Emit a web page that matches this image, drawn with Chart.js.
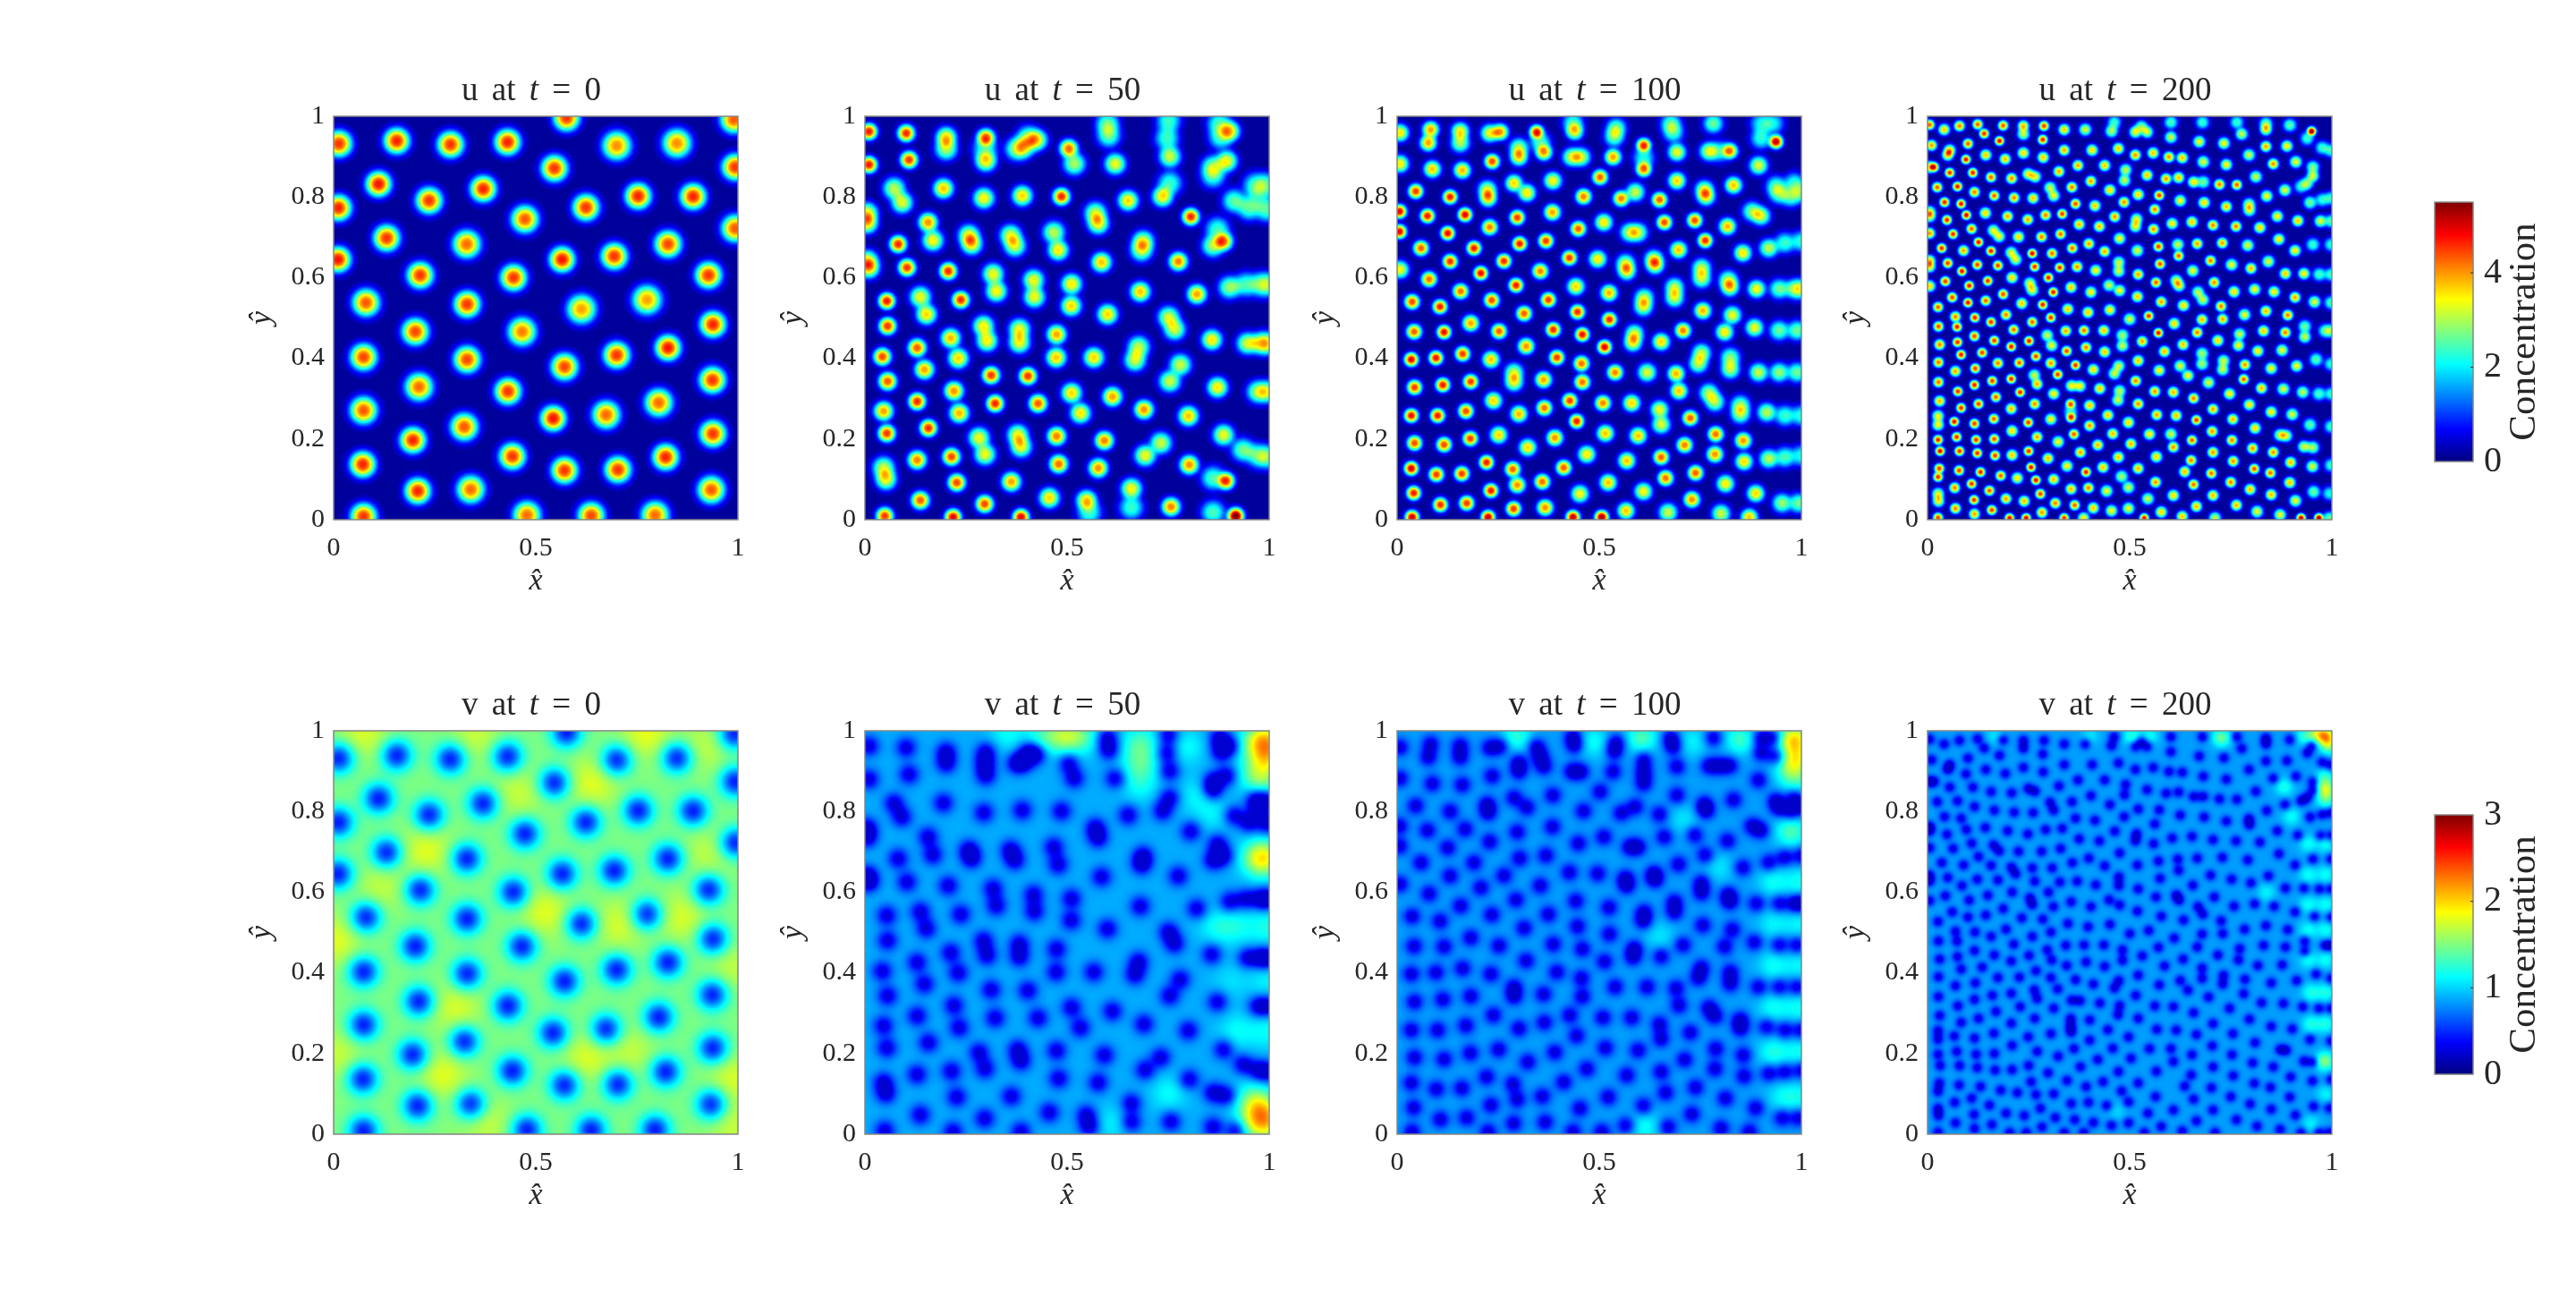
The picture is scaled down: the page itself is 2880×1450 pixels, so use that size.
<!DOCTYPE html>
<html>
<head>
<meta charset="utf-8">
<style>
  html, body { margin: 0; padding: 0; background: #fff; }
  #page { position: relative; width: 2880px; height: 1450px; overflow: hidden; }
  canvas { position: absolute; }
</style>
<script src="https://cdn.jsdelivr.net/npm/chart.js@4/dist/chart.umd.min.js"></script>
</head>
<body>
<div id="page"></div>
<script>
// Spot centres: [x, y, peak concentration]
const spots0 = [[.013,.932,4.4],[.156,.939,4.5],[.289,.93,4.4],[.43,.936,4.5],[.576,.996,4.4],[.7,.927,3.9],[.849,.933,3.9],[.99,.992,4.2],[.546,.871,4.4],[.993,.874,4.4],[.111,.832,4.6],[.37,.82,4.5],[.236,.791,4.4],[.012,.773,4.5],[.753,.802,4.5],[.889,.801,4.5],[.624,.774,4.4],[.473,.745,4.2],[.993,.722,4.2],[.131,.698,4.4],[.329,.683,4.1],[.827,.683,4.3],[.694,.653,4.4],[.565,.645,4.6],[.011,.645,4.6],[.214,.606,4.4],[.445,.6,4.4],[.927,.606,4.4],[.08,.538,4.2],[.33,.534,4.4],[.775,.545,3.8],[.613,.522,3.8],[.938,.484,4.5],[.202,.466,4.3],[.466,.466,4],[.827,.426,4.6],[.074,.403,4.3],[.7,.408,4.4],[.33,.397,4.3],[.571,.379,4.3],[.937,.346,4.4],[.211,.329,4.1],[.431,.318,4.4],[.804,.29,4.1],[.074,.271,4.2],[.674,.26,4.1],[.543,.251,4.6],[.323,.23,4.2],[.938,.213,4.4],[.196,.197,4.5],[.442,.157,4.4],[.821,.155,4.5],[.072,.137,4.5],[.571,.122,4.4],[.703,.124,4.4],[.339,.075,4.1],[.208,.071,4.5],[.934,.074,4.2],[.074,.008,4.4],[.478,.011,4.1],[.637,.01,4.3],[.795,.011,4.1]];

const spots50 = [[.01,.962,4.6],[.102,.958,4.5],[.201,.948,3.4],[.201,.919,2.8],[.299,.947,4.2],[.299,.889,3.3],[.297,.919,2],[.109,.892,4.4],[.01,.88,4.6],[.425,.941,3.2],[.393,.923,2.7],[.375,.919,2.5],[.404,.948,2.5],[.504,.92,4.1],[.518,.882,2.8],[.6,.982,2.4],[.603,.952,2.4],[.619,.882,3.2],[.751,.989,2.2],[.747,.945,2.2],[.754,.9,3],[.902,.963,3.4],[.876,.982,2.2],[.88,.948,2.2],[.895,.889,3.2],[.861,.875,2.5],[.861,.852,2.1],[.194,.821,3.6],[.072,.821,2.9],[.092,.786,3.1],[.294,.797,3.3],[.389,.803,3.5],[.486,.801,4.5],[.651,.791,3.5],[.736,.801,3.4],[.754,.834,2.2],[.913,.79,2.4],[.95,.772,2.3],[.994,.768,2.3],[.965,.83,2.1],[.994,.83,2.1],[.972,.801,1.6],[.006,.76,3.2],[.006,.735,3.4],[.156,.737,3.9],[.168,.692,3.3],[.57,.76,2.9],[.577,.734,3.2],[.806,.751,4.5],[.887,.69,4],[.861,.679,2.8],[.872,.72,2.2],[.257,.705,3.1],[.264,.683,3.3],[.36,.705,3],[.371,.679,3],[.467,.712,2.9],[.478,.668,3.4],[.688,.69,3],[.684,.668,2.8],[.082,.683,4.5],[.104,.625,4.4],[.01,.624,3.3],[.006,.642,3],[.206,.616,4.5],[.585,.638,3.6],[.775,.64,4],[.317,.609,3.2],[.325,.566,3.3],[.417,.594,3.2],[.419,.552,3.2],[.511,.584,3.4],[.51,.53,3.5],[.681,.565,3.6],[.821,.559,3.8],[.902,.576,2.7],[.942,.583,2.2],[.979,.583,2.1],[.998,.583,2.1],[.054,.542,4.6],[.056,.48,4.4],[.137,.552,3.2],[.152,.509,3.5],[.237,.545,4.5],[.6,.509,3.5],[.751,.502,3],[.766,.472,3],[.293,.48,3.3],[.302,.443,3.3],[.382,.472,3.2],[.382,.439,3.2],[.474,.459,3.8],[.473,.402,3.6],[.212,.45,3.7],[.231,.4,3.5],[.129,.426,4.2],[.147,.372,3.8],[.043,.404,4.3],[.056,.343,4.2],[.566,.402,3.5],[.677,.428,2.9],[.668,.395,3],[.858,.446,3.4],[.946,.437,3],[.979,.437,2.8],[.998,.437,2.5],[.78,.384,3],[.754,.343,3],[.312,.358,4.4],[.403,.356,4.4],[.22,.319,3.9],[.233,.264,3.7],[.129,.293,4.5],[.322,.288,4.5],[.428,.288,4.2],[.511,.314,3.5],[.533,.264,3.4],[.612,.305,3.8],[.69,.273,3.9],[.872,.328,3.4],[.972,.317,2.8],[.998,.317,2.6],[.8,.257,3.6],[.046,.269,3.8],[.054,.214,4.4],[.157,.227,4.5],[.282,.203,3.2],[.297,.162,3.2],[.378,.21,3.2],[.386,.181,3.2],[.474,.207,4],[.479,.138,4.1],[.592,.196,4],[.577,.128,3.9],[.732,.19,3],[.693,.159,3.2],[.887,.21,3.2],[.935,.173,2.5],[.972,.159,2.3],[.998,.155,2.2],[.129,.148,4],[.214,.156,4.3],[.046,.129,2.9],[.052,.1,3.2],[.802,.136,3.9],[.227,.092,4.3],[.362,.094,3.8],[.893,.096,4.4],[.861,.103,2.3],[.659,.077,3.3],[.659,.03,2.2],[.137,.048,4.2],[.296,.039,4.3],[.456,.054,3.5],[.548,.048,3.5],[.555,.018,2.2],[.757,.032,4],[.049,.009,4.4],[.218,.006,4.8],[.386,.006,4.8],[.917,.009,5.5],[.861,.018,2.3]];

const spots100 = [[.007,.959,3.4],[.083,.967,3.8],[.077,.934,3.8],[.156,.963,3.3],[.156,.934,2.8],[.255,.961,3.8],[.229,.958,3.2],[.345,.961,4.6],[.363,.911,3.8],[.354,.936,2.2],[.301,.922,2.8],[.301,.899,3.4],[.439,.963,3.3],[.435,.985,2.1],[.542,.971,2.5],[.537,.949,2.5],[.677,.982,2.3],[.683,.96,2.2],[.782,.982,2.5],[.937,.937,5],[.9,.982,1.9],[.9,.945,2.1],[.93,.982,1.9],[.61,.928,4.5],[.61,.869,4.1],[.61,.897,2],[.692,.911,3.2],[.771,.913,3],[.823,.914,4],[.797,.913,2],[.432,.899,3],[.455,.899,3],[.534,.899,3.8],[.007,.882,3.4],[.087,.869,3.6],[.161,.866,3.7],[.235,.888,4.3],[.894,.878,3.1],[.502,.849,4.2],[.385,.84,3.3],[.692,.84,3.5],[.289,.834,3.5],[.321,.81,3.4],[.76,.818,3],[.764,.801,3.2],[.832,.829,3.6],[.223,.818,3],[.225,.797,3.5],[.046,.814,4.4],[.131,.8,4.6],[.461,.801,4],[.554,.796,4],[.589,.812,3],[.649,.793,4.2],[.937,.827,2.2],[.982,.834,2.1],[.945,.808,2.3],[1,.812,2.2],[.974,.801,2.3],[.006,.764,4.8],[.075,.753,4.6],[.168,.756,4.8],[.297,.749,4.4],[.384,.762,3.8],[.511,.737,3.4],[.878,.764,2.6],[.9,.753,3],[.229,.725,4],[.448,.721,4.2],[.661,.737,4.3],[.736,.742,4.3],[.817,.727,3.7],[.575,.712,2.8],[.596,.712,2.8],[.006,.714,4.8],[.125,.71,4.7],[.368,.691,4.4],[.303,.684,4.6],[.762,.692,4.5],[.059,.673,4.2],[.19,.673,4.6],[.696,.669,3.6],[.855,.661,3.4],[.919,.673,2.9],[.959,.686,2.2],[1,.69,2.1],[.426,.649,4.4],[.496,.646,3.4],[.131,.64,4.5],[.264,.641,4.5],[.565,.635,2.9],[.568,.616,3.2],[.635,.646,3],[.638,.631,3.2],[.007,.62,3.3],[.354,.616,4],[.207,.611,4.7],[.753,.624,2.9],[.753,.598,2.9],[.079,.596,4.1],[.819,.594,2.7],[.823,.576,3.2],[.294,.581,4.6],[.442,.578,3.5],[.157,.566,4.1],[.686,.576,2.9],[.686,.55,3],[.524,.562,3.7],[.889,.572,3.3],[.945,.572,2.5],[.982,.572,2.5],[1,.572,2.3],[.611,.55,2.8],[.609,.528,3],[.374,.545,4.4],[.234,.544,4.3],[.037,.54,4.3],[.106,.528,4.6],[.756,.518,3.7],[.446,.515,4.5],[.314,.511,4.2],[.829,.507,3.2],[.81,.465,3.4],[.525,.496,4.5],[.182,.487,3.8],[.884,.476,3.2],[.945,.469,2.5],[.989,.469,2.5],[.386,.471,4.5],[.252,.467,4.2],[.707,.469,4],[.042,.466,4.2],[.116,.465,4.7],[.458,.459,4.7],[.587,.461,3],[.583,.439,3.2],[.653,.441,3.5],[.319,.43,3.9],[.513,.428,4.8],[.162,.411,4.4],[.395,.402,4.4],[.096,.401,4.7],[.035,.397,4.8],[.232,.397,3.6],[.753,.413,2.9],[.745,.387,2.9],[.824,.402,2.6],[.824,.373,2.9],[.456,.387,4.1],[.458,.341,4.1],[.894,.365,3],[.945,.365,2.7],[.989,.365,2.5],[.539,.365,4],[.618,.365,3.1],[.289,.365,2.9],[.289,.341,3.1],[.69,.362,3.7],[.697,.319,3.6],[.362,.347,3.8],[.043,.328,4.4],[.113,.334,4.6],[.182,.342,4.4],[.771,.314,2.8],[.786,.292,2.8],[.238,.295,3.5],[.427,.295,4.4],[.509,.289,4],[.58,.289,3.5],[.849,.284,2.6],[.849,.262,2.7],[.364,.277,4.1],[.17,.269,4.3],[.649,.273,3.2],[.653,.236,3.1],[.914,.266,2.9],[.959,.258,2.2],[1,.258,2.1],[.301,.262,3.7],[.035,.258,4.7],[.1,.258,4.6],[.725,.252,4.2],[.444,.244,4.6],[.515,.214,3.6],[.251,.21,3.5],[.788,.212,4.1],[.786,.162,3.9],[.596,.208,3.6],[.39,.203,3.9],[.181,.201,4.4],[.856,.196,3.9],[.858,.144,3.5],[.043,.19,4.3],[.116,.186,4.3],[.711,.185,4],[.323,.179,3.5],[.469,.162,3.4],[.653,.155,4.2],[.919,.151,2.9],[.959,.155,2.3],[1,.159,2],[.568,.146,3.6],[.221,.142,4.6],[.035,.127,4.9],[.412,.129,4.2],[.286,.125,4.2],[.297,.086,3.9],[.16,.114,4.4],[.097,.112,4.4],[.738,.116,4.2],[.664,.103,4.1],[.359,.094,4.1],[.522,.092,3.6],[.812,.089,3.4],[.609,.07,3.3],[.232,.072,4.6],[.041,.066,4.6],[.452,.064,3.3],[.887,.065,3.5],[.729,.05,3.9],[.952,.041,2.7],[.993,.041,2.5],[.107,.037,4.5],[.172,.041,4.4],[.288,.027,4.4],[.366,.03,3.9],[.566,.022,3.6],[.67,.018,3],[.801,.015,3],[.871,.006,3.6],[.037,.006,5],[.225,.006,5],[.435,.006,5],[.506,.006,5.2]];

const spots200 = [[.005,.979,4.2],[.041,.967,3.6],[.079,.976,4],[.124,.98,4.2],[.14,.957,4.5],[.187,.977,4.2],[.237,.976,3.7],[.237,.956,3],[.288,.976,4.4],[.338,.967,3.6],[.39,.967,3.1],[.462,.985,2.2],[.455,.963,2.8],[.178,.939,4.7],[.285,.942,4.6],[.01,.928,3.8],[.1,.932,4.2],[.338,.916,3.8],[.407,.916,3.5],[.472,.92,3.6],[.055,.916,3.5],[.05,.904,3.5],[.144,.904,3.6],[.237,.909,3.5],[.192,.894,3.7],[.286,.898,3.6],[.095,.893,4.7],[.016,.874,4.4],[.004,.874,3],[.372,.878,3.8],[.438,.878,3.6],[.325,.863,3.8],[.055,.86,4.5],[.112,.86,4.6],[.249,.857,3.3],[.266,.85,3.3],[.157,.849,4.2],[.208,.846,3.9],[.49,.867,3],[.487,.841,3],[.404,.839,3.8],[.024,.824,4.2],[.074,.826,4.6],[.357,.824,4],[.303,.823,3],[.312,.803,3.2],[.451,.817,3.5],[.116,.812,4],[.165,.803,4.2],[.214,.798,4],[.261,.797,3.6],[.042,.787,4.6],[.083,.783,4.7],[.366,.783,4.3],[.414,.778,3.6],[.486,.787,3.9],[.005,.763,3],[.005,.752,3],[.143,.76,3.5],[.096,.755,4.8],[.198,.752,3.8],[.292,.755,4],[.333,.758,4.4],[.248,.744,3.8],[.463,.751,3.9],[.048,.743,4.6],[.375,.732,3.7],[.425,.727,3.7],[.109,.721,4.2],[.005,.71,3.9],[.063,.708,4.5],[.163,.717,3.2],[.177,.702,3.2],[.225,.701,3.5],[.282,.701,4],[.329,.708,4.1],[.475,.697,3.3],[.126,.688,4.7],[.399,.684,3.8],[.358,.673,4.1],[.035,.673,4.5],[.089,.667,3.8],[.157,.666,4.6],[.438,.665,3.8],[.308,.66,4.1],[.259,.66,4.8],[.207,.662,3.1],[.218,.645,3.1],[.005,.642,3.5],[.005,.627,3.4],[.05,.636,4.4],[.123,.632,4.4],[.174,.63,4.4],[.265,.627,4.5],[.327,.625,4.5],[.37,.627,3.9],[.473,.638,3],[.473,.616,3],[.416,.618,3.4],[.085,.616,4.7],[.209,.6,3.5],[.299,.6,4.6],[.149,.592,4.5],[.044,.591,4.4],[.253,.586,3.1],[.259,.569,3.2],[.005,.579,3.5],[.103,.58,4.6],[.355,.576,3.6],[.449,.581,3],[.475,.568,3.3],[.404,.564,3.4],[.311,.564,4.6],[.187,.559,4.3],[.061,.551,4.3],[.1,.538,4.7],[.144,.543,4.2],[.233,.536,3.6],[.285,.533,4.6],[.347,.522,3.6],[.397,.514,3.6],[.451,.52,3.4],[.026,.527,4.2],
[.069,.503,4],[.073,.478,4.6],[.117,.501,4.6],[.194,.508,4],[.157,.49,4.5],[.259,.49,4.2],[.305,.501,4.5],[.027,.479,4.3],[.213,.471,4.1],[.342,.468,3.8],[.387,.469,4.1],[.436,.469,3.6],[.5,.497,3.1],[.116,.455,4.3],[.296,.457,3],[.307,.432,3.2],[.482,.457,2.8],[.482,.431,3],[.165,.444,4.4],[.251,.443,4.6],[.074,.44,4.5],[.03,.434,4],[.207,.429,4.6],[.392,.427,4],[.344,.418,4.3],[.438,.416,3.6],[.083,.409,4.6],[.135,.414,4.4],[.268,.405,4.4],[.027,.39,4.1],[.174,.388,4],[.227,.389,4.2],[.305,.388,3.9],[.322,.36,4.4],[.366,.383,4.5],[.41,.372,3.5],[.118,.375,4.4],[.069,.368,3.8],[.473,.381,3],[.462,.362,3],[.264,.358,3],[.271,.336,3.7],[.207,.349,4.5],[.16,.344,4.4],[.027,.341,4.1],[.116,.334,4.6],[.356,.332,3.3],[.377,.331,3.3],[.426,.325,3.6],[.312,.312,3.4],[.475,.319,2.9],[.471,.296,3],[.075,.318,4.5],[.229,.316,4.5],[.169,.304,4.2],[.03,.294,3.7],[.126,.287,4.4],[.265,.287,3.9],[.354,.287,4.2],[.355,.253,4.3],[.354,.268,2],[.401,.283,3.6],[.207,.275,3.7],[.083,.277,4.5],[.305,.249,3.4],[.446,.259,3.6],[.164,.25,4.2],[.026,.257,3.3],[.026,.235,3.3],[.066,.243,4.7],[.249,.241,4.4],[.116,.238,4.4],[.497,.241,3.5],[.401,.233,3.9],[.209,.22,3.5],[.458,.213,3.7],[.362,.212,4.2],[.271,.205,3.8],[.026,.198,4.6],[.072,.205,4.5],[.12,.198,4.5],[.165,.2,4.3],[.323,.193,3.3],[.503,.188,3.7],[.421,.185,3.7],[.378,.167,3.8],[.209,.16,3.6],[.25,.17,4.5],[.031,.17,4.8],[.079,.17,4.5],[.123,.165,4.5],[.167,.159,4.4],[.298,.152,3.7],[.472,.155,3.6],[.345,.133,3.4],[.434,.13,3.6],[.029,.127,4.4],[.078,.122,4.4],[.256,.13,4.7],[.392,.118,4.6],[.131,.118,4.6],[.181,.109,4.2],[.222,.103,3.4],[.312,.1,3.7],[.026,.106,4.5],[.268,.098,4.7],[.48,.107,2.8],[.497,.08,3],[.109,.089,4.5],[.067,.079,4],[.355,.076,3.7],[.398,.079,4],[.153,.072,4.2],[.443,.071,3.2],[.279,.064,4.4],[.026,.064,3.2],[.027,.046,3.3],[.194,.052,3.8],[.239,.046,3.7],[.115,.049,4.5],[.316,.041,4],[.364,.036,4.2],[.069,.028,4],[.41,.029,3.6],[.159,.024,4.4],[.455,.022,3.3],[.497,.028,3.2],[.283,.018,3.9],[.116,.014,3.8],[.026,.005,4.4],[.203,.004,4.8],[.244,.004,4.9],[.338,.004,4.5],[.386,.004,3.4],
[.514,.961,3.2],[.543,.961,3],[.529,.974,2.6],[.602,.985,2.3],[.602,.948,3],[.68,.985,2.2],[.672,.937,3.2],[.765,.985,2.2],[.777,.956,3],[.837,.982,2.5],[.837,.967,3.3],[.896,.978,2.4],[.95,.963,5.2],[.939,.945,2.2],[.976,.922,2.2],[.998,.915,2.2],[.733,.933,3.3],[.837,.925,3.8],[.889,.926,3.4],[.514,.904,3.9],[.558,.909,3.6],[.597,.899,3.9],[.63,.897,3.6],[.795,.904,3],[.682,.887,3.1],[.739,.88,3.4],[.855,.882,3.9],[.911,.887,3.2],[.953,.874,2.6],[.953,.852,3],[.939,.834,2.6],[.924,.826,2.1],[.543,.854,3.6],[.59,.845,3.9],[.621,.848,3.6],[.812,.85,3],[.658,.837,3.4],[.682,.837,2.5],[.722,.831,4],[.765,.83,4.2],[.884,.817,3.1],[.839,.802,3.3],[.521,.806,3.5],[.573,.804,4.4],[.625,.791,3.3],[.684,.786,3.5],[.739,.776,3.7],[.795,.782,2.9],[.796,.767,3],[.946,.786,2.5],[.976,.793,2.1],[.998,.797,2.1],[.562,.769,4],[.865,.752,3.4],[.517,.745,3.2],[.514,.727,3.2],[.605,.734,3.4],[.654,.738,3.6],[.706,.73,4],[.763,.727,4],[.822,.724,3.5],[.916,.741,3.6],[.972,.74,3.1],[.998,.74,2.4],[.559,.72,3.9],[.869,.695,3.4],[.571,.677,4.4],[.667,.684,3.8],[.729,.686,3.8],[.792,.68,3.1],[.519,.667,3.1],[.619,.682,3],[.621,.654,4.2],[.909,.667,3.4],[.953,.682,2.2],[.998,.682,2.1],[.7,.642,4],[.843,.64,3.1],[.575,.634,4.3],[.752,.632,3.2],[.8,.623,3.7],[.656,.617,3.2],[.521,.608,3.8],[.885,.61,3.6],[.931,.61,3.4],[.969,.608,2.3],[.998,.608,2.3],[.565,.588,4.2],[.615,.593,3],[.622,.58,3.2],[.709,.588,3.9],[.758,.565,3.5],[.809,.571,3.3],[.857,.565,3.4],[.519,.553,3.6],[.669,.564,2.9],[.681,.545,3],[.909,.551,3.8],[.578,.54,3.8],[.633,.531,3.5],[.957,.54,3.1],[.998,.538,2.3],[.726,.529,4],[.837,.517,3.7],[.547,.505,4.5],[.891,.507,4],[.784,.508,3.2],
[.61,.486,3.5],[.679,.496,3.7],[.667,.464,4],[.73,.497,3.8],[.933,.479,2.5],[.933,.453,3],[.983,.468,2.3],[.998,.468,2.3],[.571,.463,4.7],[.831,.468,3.6],[.885,.464,4],[.772,.46,3],[.769,.432,3.3],[.531,.442,3.8],[.632,.434,3.6],[.718,.444,3.5],[.817,.418,3.4],[.877,.42,3.2],[.586,.417,3.7],[.679,.412,2.8],[.679,.386,2.8],[.521,.394,3.6],[.732,.394,3],[.73,.372,3],[.785,.384,3.9],[.782,.348,4.2],[.85,.375,3.3],[.913,.381,3.3],[.961,.397,2.4],[.998,.386,2.1],[.573,.37,3.4],[.625,.381,3.1],[.644,.357,3.3],[.515,.344,4],[.695,.34,3.1],[.826,.326,3.7],[.88,.324,3.1],[.928,.316,2.9],[.968,.312,2.3],[.998,.312,2.2],[.562,.318,3.9],[.608,.316,3.7],[.747,.312,3.4],[.658,.301,4],[.521,.287,3.9],[.706,.274,3.8],[.796,.285,3.4],[.85,.267,3.4],[.902,.261,3.1],[.567,.26,3.8],[.615,.258,3.7],[.665,.247,4.4],[.755,.249,3.7],[.946,.235,2.4],[.998,.231,2.2],[.81,.227,3.5],[.549,.212,3.4],[.602,.212,3],[.608,.18,3.9],[.704,.219,3.9],[.872,.21,3],[.887,.208,3],[.654,.197,4.2],[.753,.197,4],[.804,.177,3.9],[.855,.167,3.9],[.931,.181,3],[.953,.179,2.8],[.706,.167,3.9],[.566,.156,3.5],[.652,.147,4],[.756,.145,3.9],[.898,.142,3.7],[.952,.132,3.1],[.998,.135,2.2],[.521,.127,3.7],[.636,.119,3.7],[.808,.126,4.3],[.848,.116,4.1],[.702,.115,4.1],[.564,.093,3.9],[.658,.087,4.1],[.75,.093,4],[.896,.092,3.6],[.798,.075,3.7],[.85,.062,3.7],[.955,.069,2.5],[.994,.065,2],[.608,.06,3.5],[.706,.06,3.7],[.545,.052,3],[.91,.047,3.2],[.764,.036,3.7],[.665,.033,3.7],[.578,.019,3.5],[.815,.02,3.2],[.872,.012,3.2],[.63,.008,3.6],[.711,.004,3],[.536,.004,4.7],[.924,.004,5],[.968,.004,5.2],[.994,.004,2.5]];

// Bright patches of the v panels: [x, y, rise above the plateau]
const rises0 = [[.074,.995,.25],[.353,.991,.2],[.773,.995,.3],[.641,.87,.28],[.457,.845,.2],[.228,.704,.28],[.523,.55,.28],[.862,.538,.25],[.707,.521,.25],[.004,.48,.28],[.302,.313,.25],[.272,.147,.28],[.626,.189,.25],[.987,.139,.25],[.928,.696,.18],[.987,.413,.18],[.376,.031,.2],[.007,.197,.2],[.736,.205,.18],[.92,.962,.18],[.118,.613,.18],[.987,.022,.2]];
const rises50 = [[.994,.979,.75],[.994,.935,.7],[.965,.972,.4],[.965,.891,.4],[.994,.875,.3],[.972,.684,.6],[.994,.684,.55],[.979,.063,.65],[.994,.026,.75],[.957,.085,.35],[.957,.026,.35],[.493,.987,.6],[.441,.987,.35],[.353,.994,.25],[.537,.987,.4],[.681,.972,.4],[.681,.92,.4],[.681,.868,.25],[.797,.96,.25],[.92,.514,.25],[.994,.514,.3],[.869,.514,.25],[.906,.381,.15],[.994,.381,.2],[.92,.255,.25],[.994,.255,.25],[.751,.1,.25],[.817,.839,.2],[.861,.795,.2],[.611,.026,.2]];
const rises100 = [[.989,.979,.75],[.989,.928,.7],[.967,.979,.4],[.967,.905,.35],[.989,.876,.3],[.974,.75,.5],[.605,.983,.5],[.849,.979,.45],[.295,.987,.4],[.487,.972,.3],[.731,.972,.25],[.93,.625,.3],[.996,.625,.3],[.93,.521,.25],[.996,.521,.25],[.93,.418,.3],[.996,.418,.25],[.93,.314,.3],[.996,.314,.3],[.93,.203,.35],[.996,.203,.3],[.952,.092,.25],[.996,.092,.25],[.613,.018,.3],[.797,.661,.2],[.649,.491,.2],[.708,.78,.2]];
const rises200 = [[.985,.987,1.1],[.963,.994,.6],[.993,.964,.6],[.985,.854,.8],[.982,.883,.4],[.985,.828,.4],[.982,.181,.7],[.727,.983,.6],[.506,.987,.4],[.55,.987,.3],[.167,.987,.2],[.403,.987,.2],[.934,.987,.4],[.882,.861,.35],[.9,.787,.3],[.941,.72,.3],[.985,.72,.3],[.941,.643,.3],[.985,.643,.3],[.941,.569,.3],[.985,.569,.3],[.838,.599,.25],[.941,.506,.3],[.985,.506,.3],[.941,.432,.3],[.985,.432,.3],[.948,.351,.35],[.985,.351,.35],[.948,.273,.35],[.985,.273,.35],[.985,.1,.25],[.948,.026,.25],[.469,.056,.15]];

const times = [0, 50, 100, 200];
const xTicks = [0, 0.5, 1];
const yTicks = [0, 0.2, 0.4, 0.6, 0.8, 1];
const uBarTicks = [0, 2, 4];
const vBarTicks = [0, 1, 2, 3];
const uMax = 5.5;
const vMax = 3;

// Layout and look, per column
const COLS = [373, 967, 1562, 2155];
const ROWS = [130, 817];
const PW = 452, PH = 451;
const uSigma = [10, 6.6, 5.6, 3.7];
const dipSigma = [12, 8, 6.9, 4.3];
const dipAmp = [1.05, 0.62, 0.6, 0.58];
const riseSigma = [20, 14, 12, 7];
const vBase = [1.5, 0.88, 0.84, 0.84];
const vFloor = [0.45, 0.24, 0.22, 0.22];
const allSpots = [spots0, spots50, spots100, spots200];
const allRises = [rises0, rises50, rises100, rises200];

const SERIF = '"Liberation Serif", "DejaVu Serif", serif';
const INK = '#262626';
const FRAME = '#858585';
const UNORM = 1.5;   // u spots add up as a soft maximum with this power
const page = document.getElementById('page');

function jet(t) {
    t = Math.min(1, t);
    const c = v => Math.round(255 * Math.min(1, Math.max(0, v)));
    return [c(1.5 - Math.abs(4 * t - 3)), c(1.5 - Math.abs(4 * t - 2)), c(1.5 - Math.abs(4 * t - 1))];
}

// Round stamp on a black square; channel 0 is red, 1 is green
const stamps = {};
function stamp(sigma, level, channel, rate = 1, shape = 1) {
    const s = Math.round(sigma * 10) / 10;
    const key = [s, Math.round(level), channel, rate, shape].join('|');
    if (stamps[key]) return stamps[key];
    const half = Math.ceil(s * 3.4);
    const size = half * 2 + 1;
    const cv = document.createElement('canvas');
    cv.width = cv.height = size;
    const g = cv.getContext('2d');
    const img = g.createImageData(size, size);
    for (let j = 0; j < size; j++) {
        for (let i = 0; i < size; i++) {
            const d2 = (i - half) ** 2 + (j - half) ** 2;
            const k = (j * size + i) * 4;
            img.data[k + channel] = level * Math.exp(-rate * Math.pow(d2 / (2 * s * s), shape));
            img.data[k + 3] = 255;
        }
    }
    g.putImageData(img, 0, 0);
    stamps[key] = cv;
    return cv;
}

// Weaker spots in the reference are also the wider ones
function spotWidth(base, peak) {
    return base * Math.min(1.5, Math.max(0.95, 1 + 0.2 * (4.4 - peak)));
}

function uStamp(base, peak) {
    return stamp(spotWidth(base, peak), Math.pow(peak / 6, UNORM) * 255, 0, UNORM, 1.25);
}

// The points add up in the plot area, then the sum goes through the jet map
function fieldPlugin(toUnit) {
    return {
        id: 'field',
        beforeDatasetsDraw(chart) {
            const a = chart.chartArea;
            chart.ctx.save();
            chart.ctx.fillStyle = '#000';
            chart.ctx.fillRect(a.left, a.top, a.width, a.height);
            chart.ctx.restore();
            chart.ctx.globalCompositeOperation = 'lighter';
        },
        afterDatasetsDraw(chart) {
            const ctx = chart.ctx;
            const a = chart.chartArea;
            ctx.globalCompositeOperation = 'source-over';
            const img = ctx.getImageData(a.left, a.top, a.width, a.height);
            const d = img.data;
            for (let k = 0; k < d.length; k += 4) {
                const col = jet(toUnit(d[k], d[k + 1]));
                d[k] = col[0]; d[k + 1] = col[1]; d[k + 2] = col[2]; d[k + 3] = 255;
            }
            ctx.putImageData(img, a.left, a.top);
        }
    };
}

const framePlugin = {
    id: 'frame',
    afterDraw(chart) {
        const a = chart.chartArea;
        const ctx = chart.ctx;
        ctx.save();
        ctx.strokeStyle = FRAME;
        ctx.lineWidth = 1.5;
        ctx.strokeRect(a.left, a.top, a.width, a.height);
        ctx.restore();
    }
};

// Title with the time symbol in italics, which the stock title block can't mix
function titlePlugin(parts) {
    return {
        id: 'mixedTitle',
        afterDraw(chart) {
            const a = chart.chartArea;
            const ctx = chart.ctx;
            ctx.save();
            ctx.fillStyle = INK;
            ctx.textBaseline = 'middle';
            ctx.textAlign = 'left';
            ctx.wordSpacing = '6px';
            const fonts = ['37px ' + SERIF, 'italic 37px ' + SERIF, '37px ' + SERIF];
            let total = 0;
            parts.forEach((p, i) => { ctx.font = fonts[i]; total += ctx.measureText(p).width; });
            let x = (a.left + a.right) / 2 - 5 - total / 2;
            parts.forEach((p, i) => {
                ctx.font = fonts[i];
                ctx.fillText(p, x, a.top - 28);
                x += ctx.measureText(p).width;
            });
            ctx.restore();
        }
    };
}

function addCanvas(left, top, width, height) {
    const cv = document.createElement('canvas');
    cv.width = width;
    cv.height = height;
    cv.style.left = left + 'px';
    cv.style.top = top + 'px';
    page.appendChild(cv);
    return cv;
}

function toPoints(list) {
    return list.map(s => ({ x: s[0], y: s[1], p: s[2] }));
}

function makePanel(field, col, row) {
    const isU = field === 'u';
    const spots = toPoints(allSpots[col]);
    const dataset = (data, style) => ({
        data,
        showLine: false,
        clip: 0,
        pointRadius: 2,
        pointHoverRadius: 2,
        pointBorderWidth: 0,
        pointStyle: style
    });
    let datasets, toUnit;
    if (isU) {
        datasets = [dataset(spots, c => c.raw ? uStamp(uSigma[col], c.raw.p) : 'circle')];
        toUnit = r => (0.15 + 6 * Math.pow(r / 255, 1 / UNORM)) / uMax;
    } else {
        datasets = [
            dataset(spots, () => stamp(dipSigma[col], dipAmp[col] / 2 * 255, 0)),
            dataset(toPoints(allRises[col]), c => c.raw ? stamp(riseSigma[col], c.raw.p / 2 * 255, 1) : 'circle')
        ];
        toUnit = (r, g) => Math.max(vFloor[col], vBase[col] + g / 255 * 2 - r / 255 * 2) / vMax;
    }
    const cv = addCanvas(COLS[col] - 100, ROWS[row] - 48, 100 + PW + 24, 48 + PH + 89);
    return new Chart(cv, {
        type: 'scatter',
        data: { datasets },
        plugins: [
            fieldPlugin(toUnit),
            framePlugin,
            titlePlugin([field + ' at ', 't', ' = ' + times[col]])
        ],
        options: {
            responsive: false,
            animation: false,
            events: [],
            devicePixelRatio: 1,
            layout: { padding: { left: 0, right: 24, top: 48, bottom: 0 } },
            plugins: {
                legend: { display: false },
                tooltip: { enabled: false }
            },
            scales: {
                x: {
                    type: 'linear', min: 0, max: 1,
                    grid: { display: false, drawTicks: false },
                    border: { display: false },
                    afterFit: s => { s.height = 89; },
                    afterBuildTicks: s => { s.ticks = xTicks.map(value => ({ value })); },
                    ticks: {
                        color: INK, padding: 14, maxRotation: 0, autoSkip: false,
                        font: { family: SERIF, size: 30 },
                        callback: v => String(v)
                    },
                    title: {
                        display: true, text: 'x\u0302', color: INK, padding: 0,
                        font: { family: SERIF, size: 34, style: 'italic', lineHeight: 1.2 }
                    }
                },
                y: {
                    type: 'linear', min: 0, max: 1,
                    grid: { display: false, drawTicks: false },
                    border: { display: false },
                    afterFit: s => { s.width = 100; },
                    afterBuildTicks: s => { s.ticks = yTicks.map(value => ({ value })); },
                    ticks: {
                        color: INK, padding: 10, autoSkip: false,
                        font: { family: SERIF, size: 30 },
                        callback: v => String(v)
                    },
                    title: {
                        display: true, text: 'y\u0302', color: INK, padding: 0,
                        font: { family: SERIF, size: 34, style: 'italic', lineHeight: 1.2 }
                    }
                }
            }
        }
    });
}

// Colour bar: one floating bar with a jet gradient along the value scale
function makeColorbar(top, barMax, tickList) {
    const left = 2722, width = 43, height = 290, margin = 40;
    const cv = addCanvas(left - 10, top - margin, 2880 - left + 10, height + margin * 2);
    const sideLabel = {
        id: 'sideLabel',
        afterDraw(chart) {
            const a = chart.chartArea;
            const ctx = chart.ctx;
            ctx.save();
            ctx.translate(a.right + 58, (a.top + a.bottom) / 2);
            ctx.rotate(-Math.PI / 2);
            ctx.font = '43px ' + SERIF;
            ctx.fillStyle = INK;
            ctx.textAlign = 'center';
            ctx.textBaseline = 'middle';
            ctx.fillText('Concentration', 0, 0);
            ctx.restore();
            ctx.save();
            ctx.strokeStyle = INK;
            ctx.lineWidth = 1;
            chart.scales.y.ticks.forEach(t => {
                const py = chart.scales.y.getPixelForValue(t.value);
                if (t.value > 0 && t.value < barMax) {
                    ctx.beginPath();
                    ctx.moveTo(a.right - 3, py);
                    ctx.lineTo(a.right, py);
                    ctx.stroke();
                }
            });
            ctx.restore();
        }
    };
    return new Chart(cv, {
        type: 'bar',
        data: {
            labels: ['c'],
            datasets: [{
                data: [[0, barMax]],
                barPercentage: 1,
                categoryPercentage: 1,
                backgroundColor: c => {
                    const a = c.chart.chartArea;
                    if (!a) return '#00f';
                    const g = c.chart.ctx.createLinearGradient(0, a.bottom, 0, a.top);
                    for (let i = 0; i <= 32; i++) {
                        const col = jet(i / 32);
                        g.addColorStop(i / 32, `rgb(${col[0]},${col[1]},${col[2]})`);
                    }
                    return g;
                }
            }]
        },
        plugins: [framePlugin, sideLabel],
        options: {
            responsive: false,
            animation: false,
            events: [],
            devicePixelRatio: 1,
            layout: { padding: { left: 10, right: 0, top: margin, bottom: margin } },
            plugins: { legend: { display: false }, tooltip: { enabled: false } },
            scales: {
                x: { display: false },
                y: {
                    position: 'right', min: 0, max: barMax,
                    grid: { display: false, drawTicks: false },
                    border: { display: false },
                    afterFit: s => { s.width = 2880 - left - width; },
                    afterBuildTicks: s => { s.ticks = tickList.map(value => ({ value })); },
                    ticks: {
                        color: INK, padding: 12, autoSkip: false,
                        font: { family: SERIF, size: 40 },
                        callback: v => String(v)
                    }
                }
            }
        }
    });
}

times.forEach((t, col) => {
    makePanel('u', col, 0);
    makePanel('v', col, 1);
});
makeColorbar(226, uMax, uBarTicks);
makeColorbar(911, vMax, vBarTicks);
</script>
</body>
</html>
